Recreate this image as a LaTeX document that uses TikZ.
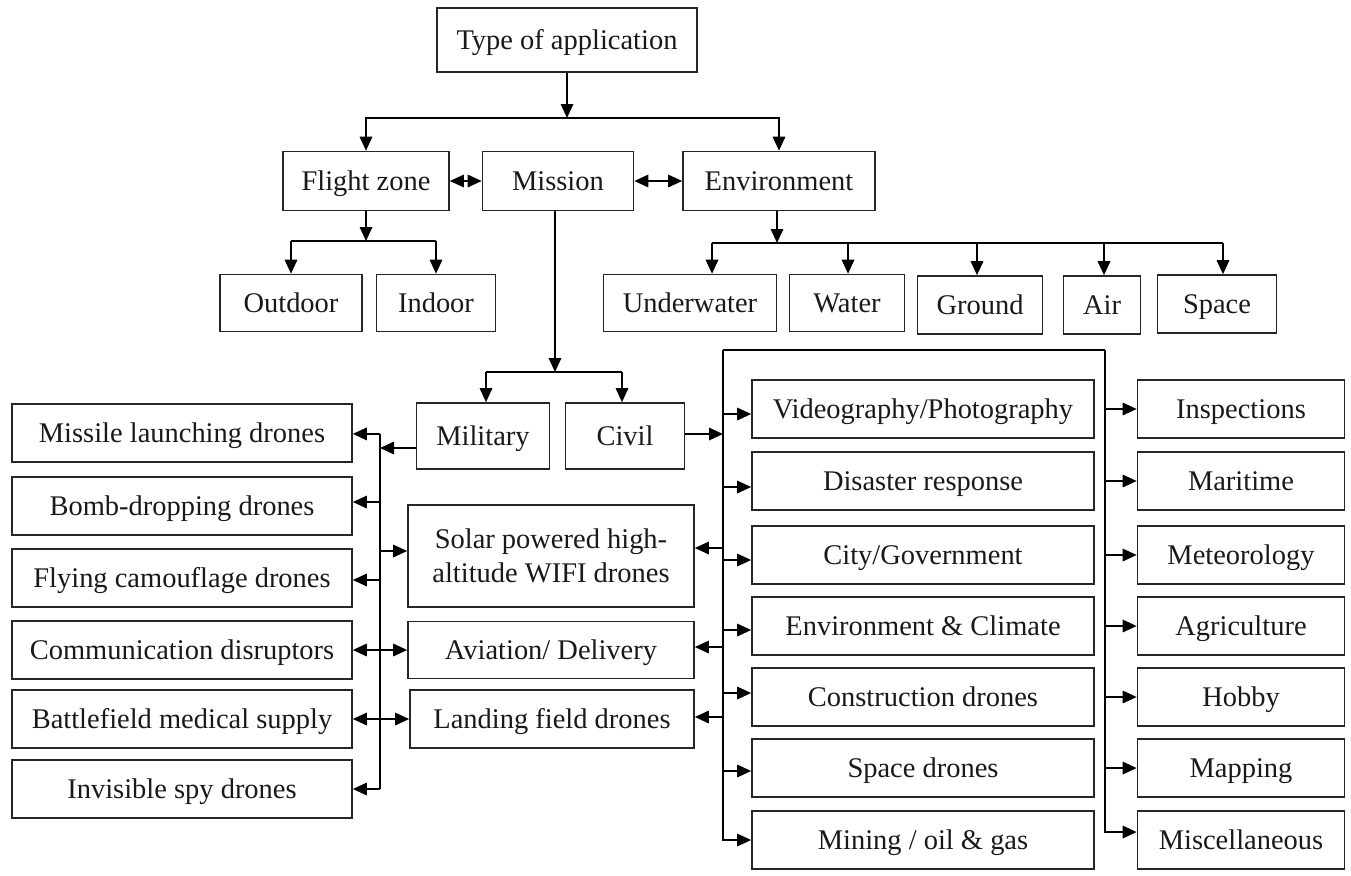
\documentclass[tikz,border=0pt]{standalone}
\usepackage{fontspec}
\setmainfont{Liberation Serif}
\usetikzlibrary{arrows.meta}

\begin{document}
\begin{tikzpicture}[x=0.2mm,y=-0.2mm,
        >={Triangle[length=2.8mm,width=2.5mm]},
        line width=0.95pt,
        base/.style={draw=black!85,inner sep=0pt,minimum height=11.6mm,
            font=\fontsize{16.2}{19.5}\selectfont,text=black!90},
        box/.style={base,text height=13pt,text depth=2.5pt},
        leftbox/.style={box,minimum width=68mm},
        usebox/.style={box,minimum width=68.4mm},
        sidebox/.style={box,minimum width=41.4mm}]
        \useasboundingbox (0,0) rectangle (1351,875);

        % top levels
        \node[box,minimum width=52mm,minimum height=12.8mm] (app) at (567,40) {Type of application};
        \node[box,minimum width=33.2mm,minimum height=11.8mm] (zone) at (366,181) {Flight zone};
        \node[box,minimum width=30.2mm,minimum height=11.8mm] (mission) at (558,181) {Mission};
        \node[box,minimum width=38.4mm,minimum height=11.8mm] (env) at (779,181) {Environment};

        \node[box,minimum width=28.4mm,minimum height=11.4mm] (outdoor) at (291,303) {Outdoor};
        \node[box,minimum width=23.8mm,minimum height=11.4mm] (indoor) at (436,303) {Indoor};

        \node[box,minimum width=34.6mm,minimum height=11.4mm] (under) at (690,303) {Underwater};
        \node[box,minimum width=23mm,minimum height=11.4mm] (water) at (847,303) {Water};
        \node[box,minimum width=25mm] (ground) at (980,305) {Ground};
        \node[box,minimum width=15.4mm] (air) at (1102,305) {Air};
        \node[box,minimum width=23.8mm] (space) at (1217,304) {Space};

        \node[box,minimum width=26.6mm,minimum height=13.2mm] (military) at (483,436) {Military};
        \node[box,minimum width=23.8mm,minimum height=13.2mm] (civil) at (625,436) {Civil};

        % military uses
        \node[leftbox] (missile) at (182,433) {Missile launching drones};
        \node[leftbox] (bomb) at (182,506) {Bomb-dropping drones};
        \node[leftbox] (camo) at (182,578) {Flying camouflage drones};
        \node[leftbox] (comm) at (182,650) {Communication disruptors};
        \node[leftbox] (medical) at (182,719) {Battlefield medical supply};
        \node[leftbox] (spy) at (182,789) {Invisible spy drones};

        % shared uses
        \node[base,minimum width=57.2mm,minimum height=20.4mm,align=center] (solar) at (551,556) {Solar powered high-\\altitude WIFI drones};
        \node[box,minimum width=57.2mm,minimum height=11.4mm] (aviation) at (551,650) {Aviation/ Delivery};
        \node[box,minimum width=56.8mm] (landing) at (552,719) {Landing field drones};

        % civil uses
        \node[usebox] (video) at (923,409) {Videography/Photography};
        \node[usebox] (disaster) at (923,481) {Disaster response};
        \node[usebox] (city) at (923,555) {City/Government};
        \node[usebox] (climate) at (923,626) {Environment \& Climate};
        \node[usebox] (construct) at (923,697) {Construction drones};
        \node[usebox] (spacedr) at (923,768) {Space drones};
        \node[usebox] (mining) at (923,840) {Mining / oil \& gas};

        \node[sidebox] (inspect) at (1241,409) {Inspections};
        \node[sidebox] (maritime) at (1241,481) {Maritime};
        \node[sidebox] (meteo) at (1241,555) {Meteorology};
        \node[sidebox] (agri) at (1241,626) {Agriculture};
        \node[sidebox] (hobby) at (1241,697) {Hobby};
        \node[sidebox] (mapping) at (1241,768) {Mapping};
        \node[sidebox] (misc) at (1241,840) {Miscellaneous};

        % bus points
        \coordinate (topbar) at (567,118);
        \coordinate (zonebar) at (366,241);
        \coordinate (envbar) at (777,243);
        \coordinate (missionbar) at (555,372);
        \coordinate (lbus) at (380,434);
        \coordinate (rbus) at (723,350);
        \coordinate (rbus2) at (1105,350);

        \draw[->] (app) -- (topbar);
        \draw[->] (topbar) -| (zone);
        \draw[->] (topbar) -| (env);
        \draw[<->] (zone) -- (mission);
        \draw[<->] (mission) -- (env);

        \draw[->] (zone) -- (zonebar);
        \draw (zonebar -| outdoor) -- (zonebar -| indoor);
        \draw[->] (zonebar -| outdoor) -- (outdoor);
        \draw[->] (zonebar -| indoor) -- (indoor);

        \draw[->] (env.south -| envbar) -- (envbar);
        \draw (712,243) -- (1223,243);
        \draw[->] (712,243) -- (under.north -| 712,0);
        \draw[->] (848,243) -- (water.north -| 848,0);
        \draw[->] (977,243) -- (ground.north -| 977,0);
        \draw[->] (1104,243) -- (air.north -| 1104,0);
        \draw[->] (1223,243) -- (space.north -| 1223,0);

        \draw[->] (mission.south -| missionbar) -- (missionbar);
        \draw (missionbar -| 486,0) -- (missionbar -| 622,0);
        \draw[->] (missionbar -| 486,0) -- (military.north -| 486,0);
        \draw[->] (missionbar -| 622,0) -- (civil.north -| 622,0);

        % military side
        \draw[->] (military.west |- 0,448) -- (lbus |- 0,448);
        \draw (lbus) -- (lbus |- spy);
        \draw[->] (lbus) -- (missile);
        \draw[->] (lbus |- 0,502) -- (bomb.east |- 0,502);
        \draw[->] (lbus |- 0,580) -- (camo.east |- 0,580);
        \draw[->] (lbus |- spy) -- (spy);
        \draw[->] (lbus |- 0,551) -- (solar.west |- 0,551);
        \draw[<->] (comm) -- (aviation);
        \draw[<->] (medical) -- (landing);

        % civil side
        \draw[->] (civil.east |- 0,434) -- (rbus |- 0,434);
        \draw (rbus) -- (rbus2);
        \draw[->] (rbus) |- (mining);
        \draw[->] (rbus2) |- (misc.west |- 0,832);
        \draw[->] (rbus |- 0,414) -- (video.west |- 0,414);
        \draw[->] (rbus |- 0,487) -- (disaster.west |- 0,487);
        \draw[->] (rbus |- 0,560) -- (city.west |- 0,560);
        \draw[->] (rbus |- 0,630) -- (climate.west |- 0,630);
        \draw[->] (rbus |- 0,693) -- (construct.west |- 0,693);
        \draw[->] (rbus |- 0,771) -- (spacedr.west |- 0,771);
        \draw[->] (rbus |- 0,548) -- (solar.east |- 0,548);
        \draw[->] (rbus |- 0,647) -- (aviation.east |- 0,647);
        \draw[->] (rbus |- 0,717) -- (landing.east |- 0,717);

        \foreach \n in {inspect,maritime,meteo,agri,hobby,mapping}
            \draw[->] (rbus2 |- \n) -- (\n);

    \end{tikzpicture}
\end{document}
